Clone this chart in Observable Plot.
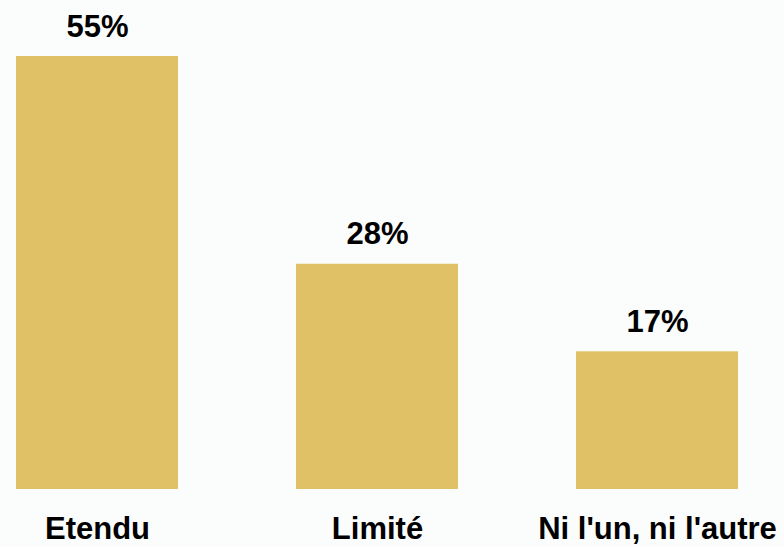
<!DOCTYPE html>
<html>
<head>
<meta charset="utf-8">
<script src="https://cdn.jsdelivr.net/npm/d3@7"></script>
<script src="https://cdn.jsdelivr.net/npm/@observablehq/plot@0.6"></script>
<style>
  html, body { margin: 0; padding: 0; background: #fbfdfd; }
  #chart svg { display: block; }
</style>
</head>
<body>
<div id="chart"></div>
<script>
const categories = ["Etendu", "Limité", "Ni l'un, ni l'autre"];
const values = [54.4, 28.3, 17.3];
const labels = ["55%", "28%", "17%"];

const data = categories.map((c, i) => ({category: c, value: values[i], label: labels[i]}));

const font = "'Liberation Sans', Arial, sans-serif";

const chart = Plot.plot({
  width: 784,
  height: 546,
  marginTop: 56,
  marginBottom: 57,
  marginLeft: 16,
  marginRight: 45,
  style: {background: "#fbfdfd", fontFamily: font},
  x: {domain: categories, paddingInner: 0.42, paddingOuter: 0, label: null},
  y: {domain: [0, 54.4], axis: null},
  marks: [
    Plot.barY(data, {x: "category", y: "value", fill: "#e0c166"}),
    Plot.text(data, {x: "category", y: "value", text: "label", lineAnchor: "bottom", dy: -20,
      fontSize: 31, fontWeight: "bold", fill: "#000"}),
    Plot.axisX({tickSize: 0, tickPadding: 27, fontSize: 31, fontWeight: "bold", color: "#000", label: null})
  ]
});
document.getElementById("chart").appendChild(chart);
</script>
</body>
</html>
